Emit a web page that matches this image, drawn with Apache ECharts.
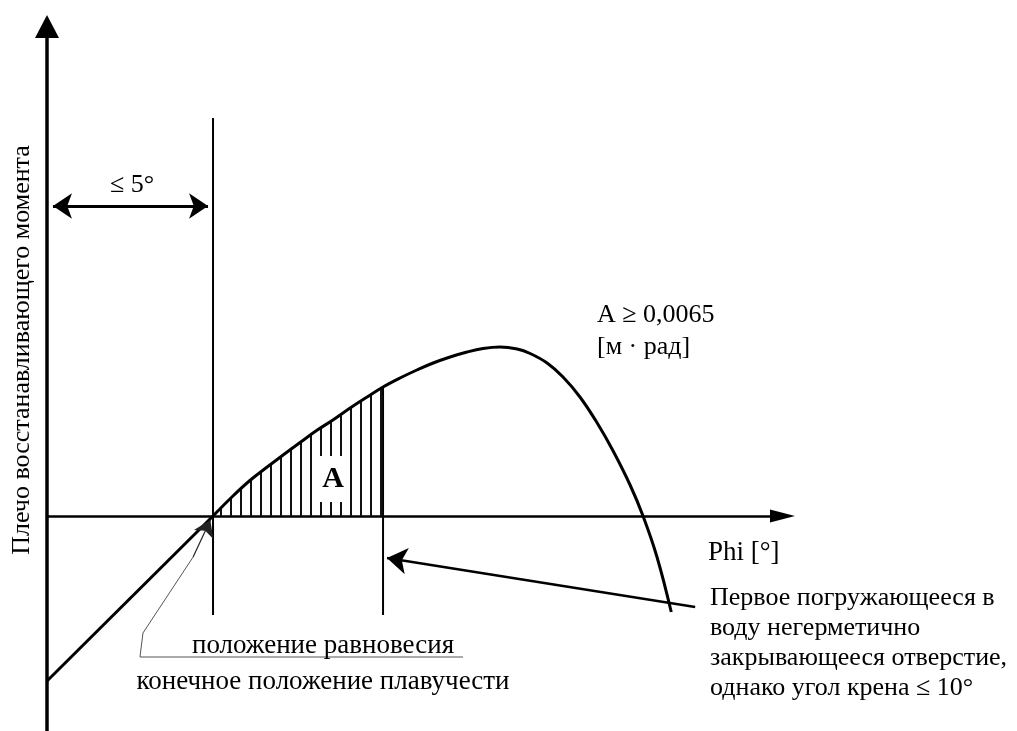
<!DOCTYPE html>
<html>
<head>
<meta charset="utf-8">
<script src="https://cdn.jsdelivr.net/npm/echarts@6/dist/echarts.min.js"></script>
<style>html,body{margin:0;padding:0;background:#fff}#c{width:1017px;height:731px}</style>
</head>
<body>
<div id="c"></div>
<script>
// Heel angle (deg) and righting lever (schematic units)
const phi   = [-5, 0, 0.60, 1.11, 1.63, 2.11, 2.62, 3.13, 3.61, 4.13, 4.64, 5.12, 5.63, 6.14, 6.63, 7.14, 7.65, 8.13, 8.64, 9.16, 9.55, 10.06, 10.54, 11.05, 11.57, 12.05, 12.56, 12.95, 13.37, 13.80];
const lever = [-1.65, 0, 0.20, 0.355, 0.49, 0.61, 0.735, 0.857, 0.96, 1.08, 1.19, 1.29, 1.38, 1.46, 1.53, 1.59, 1.64, 1.675, 1.69, 1.67, 1.625, 1.53, 1.39, 1.19, 0.93, 0.65, 0.31, 0, -0.41, -0.96];
const eqPhi = 0;          // equilibrium position
const floodPhi = 5.12;    // first non-watertight opening
const floodLever = 1.29;
const eqTop = 3.98;
const vBottom = -0.99;
const limitPhi = [-4.82, -0.15]; // "≤ 5°" span
const limitLever = 3.10;
const floodArrow = [[14.52, -0.91], [5.24, -0.42]];
const leader = [[7.53, -1.41], [-2.20, -1.41], [-2.11, -1.17], [-0.60, -0.41]];
const leaderTip = [[-0.60, -0.41], [-0.08, -0.04]];

const labels = {
  yName: 'Плечо восстанавливающего момента',
  xName: 'Phi [°]',
  limit: '≤ 5°',
  area1: 'A ≥ 0,0065',
  area2: '[м · рад]',
  areaMark: 'A',
  eq1: 'положение равновесия',
  eq2: 'конечное положение плавучести',
  flood: ['Первое погружающееся в', 'воду негерметично', 'закрывающееся отверстие,', 'однако угол крена ≤ 10°']
};

const curve = phi.map((x, i) => [x, lever[i]]);
const leftPart = curve.slice(0, 2);
const mainPart = curve.slice(1);
const hatchPart = curve.filter(p => p[0] >= eqPhi && p[0] <= floodPhi);

// hatch pattern
const pc = document.createElement('canvas');
pc.width = 10; pc.height = 8;
const pctx = pc.getContext('2d');
pctx.fillStyle = '#111';
pctx.fillRect(0, 0, 2, 8);

const font = 'Liberation Serif, Times New Roman, serif';
const chart = echarts.init(document.getElementById('c'), null, {renderer: 'canvas'});
chart.setOption({
  backgroundColor: '#fff',
  animation: false,
  grid: {left: 47, right: 234.5, top: 26.5, bottom: 0},
  xAxis: {
    type: 'value', min: -5, max: 17.15,
    axisLine: {onZero: true, symbol: ['none', 'triangle'], symbolSize: [13, 25], lineStyle: {color: '#000', width: 2.5}},
    axisTick: {show: false}, axisLabel: {show: false}, splitLine: {show: false}
  },
  yAxis: {
    type: 'value', min: -2.15, max: 4.895,
    axisLine: {show: true, onZero: false, symbol: ['none', 'triangle'], symbolSize: [24, 23], lineStyle: {color: '#000', width: 3.5}},
    axisTick: {show: false}, axisLabel: {show: false}, splitLine: {show: false}
  },
  series: [
    {type: 'line', data: hatchPart, smooth: 0.4, symbol: 'none', clip: false,
     lineStyle: {width: 0, opacity: 0},
     areaStyle: {color: {image: pc, repeat: 'repeat'}, opacity: 1}, z: 1},
    {type: 'line', data: leftPart, symbol: 'none', clip: false, lineStyle: {color: '#000', width: 3}, z: 3},
    {type: 'line', data: mainPart, smooth: 0.4, symbol: 'none', clip: false, lineStyle: {color: '#000', width: 3}, z: 3},
    {type: 'line', data: [[eqPhi, eqTop], [eqPhi, vBottom]], symbol: 'none', clip: false, lineStyle: {color: '#000', width: 2}, z: 3},
    {type: 'line', data: [[floodPhi, floodLever], [floodPhi, vBottom]], symbol: 'none', clip: false, lineStyle: {color: '#000', width: 2}, z: 3},
    {type: 'lines', coordinateSystem: 'cartesian2d', polyline: false, z: 4,
     symbol: ['arrow', 'arrow'], symbolSize: 19,
     lineStyle: {color: '#000', width: 3, opacity: 1},
     data: [{coords: [[limitPhi[0], limitLever], [limitPhi[1], limitLever]]}]},
    {type: 'lines', coordinateSystem: 'cartesian2d', polyline: false, z: 4,
     symbol: ['none', 'arrow'], symbolSize: 20,
     lineStyle: {color: '#000', width: 2.5, opacity: 1},
     data: [{coords: floodArrow}]},
    {type: 'lines', coordinateSystem: 'cartesian2d', polyline: true, z: 4,
     lineStyle: {color: '#555', width: 1, opacity: 1},
     data: [{coords: leader}]},
    {type: 'lines', coordinateSystem: 'cartesian2d', polyline: false, z: 4,
     symbol: ['none', 'arrow'], symbolSize: 16,
     lineStyle: {color: '#222', width: 1.2, opacity: 1},
     data: [{coords: leaderTip}]}
  ],
  graphic: [
    {type: 'text', x: 22, y: 350, rotation: Math.PI / 2, z: 100,
     style: {text: labels.yName, font: '26px ' + font, fill: '#000', align: 'center', verticalAlign: 'middle'}},
    {type: 'text', x: 132, y: 185, z: 100,
     style: {text: labels.limit, font: '26px ' + font, fill: '#000', align: 'center', verticalAlign: 'middle'}},
    {type: 'text', x: 597, y: 315, z: 100,
     style: {text: labels.area1, font: '26px ' + font, fill: '#000', align: 'left', verticalAlign: 'middle'}},
    {type: 'text', x: 597, y: 347, z: 100,
     style: {text: labels.area2, font: '26px ' + font, fill: '#000', align: 'left', verticalAlign: 'middle'}},
    {type: 'text', x: 708, y: 553, z: 100,
     style: {text: labels.xName, font: '27px ' + font, fill: '#000', align: 'left', verticalAlign: 'middle'}},
    {type: 'text', x: 710, y: 583, z: 100,
     style: {text: labels.flood.join('\n'), font: '26px ' + font, lineHeight: 30, fill: '#000', align: 'left', verticalAlign: 'top'}},
    {type: 'text', x: 323, y: 646, z: 100,
     style: {text: labels.eq1, font: '27px ' + font, fill: '#000', align: 'center', verticalAlign: 'middle'}},
    {type: 'text', x: 323, y: 682, z: 100,
     style: {text: labels.eq2, font: '27px ' + font, fill: '#000', align: 'center', verticalAlign: 'middle'}},
    {type: 'text', x: 333, y: 479, z: 100,
     style: {text: labels.areaMark, font: 'bold 30px ' + font, fill: '#000', align: 'center', verticalAlign: 'middle',
             backgroundColor: '#fff', padding: [8, 6, 8, 6]}}
  ]
});
</script>
</body>
</html>
